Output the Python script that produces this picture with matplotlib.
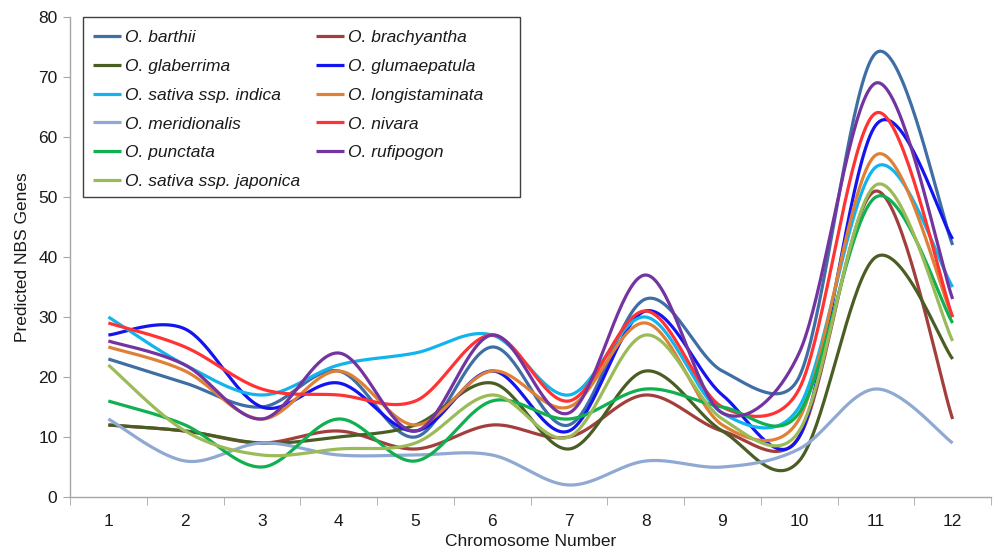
import numpy as np
import matplotlib
matplotlib.use("Agg")
import matplotlib.pyplot as plt
from matplotlib.ticker import FixedLocator, NullFormatter
from matplotlib.patches import Rectangle

plt.rcParams['font.family'] = ['Liberation Sans', 'DejaVu Sans']

chromosomes = [1, 2, 3, 4, 5, 6, 7, 8, 9, 10, 11, 12]

barthii        = [23, 19, 15, 21, 10, 25, 12, 33, 21, 20, 74, 42]
brachyantha    = [12, 11, 9, 11, 8, 12, 10, 17, 11, 10, 51, 13]
glaberrima     = [12, 11, 9, 10, 12, 19, 8, 21, 11, 6, 40, 23]
glumaepatula   = [27, 28, 15, 19, 11, 21, 11, 31, 17, 10, 62, 43]
sativa_indica  = [30, 22, 17, 22, 24, 27, 17, 30, 14, 15, 55, 35]
longistaminata = [25, 21, 13, 21, 12, 21, 15, 29, 12, 13, 57, 30]
meridionalis   = [13, 6, 9, 7, 7, 7, 2, 6, 5, 8, 18, 9]
nivara         = [29, 25, 18, 17, 16, 27, 16, 31, 15, 18, 64, 30]
punctata       = [16, 12, 5, 13, 6, 16, 13, 18, 15, 14, 50, 29]
rufipogon      = [26, 22, 13, 24, 11, 27, 14, 37, 14, 24, 69, 33]
sativa_japonica= [22, 11, 7, 8, 9, 17, 10, 27, 13, 11, 52, 26]

series = [
    ("O. barthii", barthii, "#3F6EA5"),
    ("O. brachyantha", brachyantha, "#A23F3C"),
    ("O. glaberrima", glaberrima, "#4A5E24"),
    ("O. glumaepatula", glumaepatula, "#1414F0"),
    ("O. sativa ssp. indica", sativa_indica, "#12B4EE"),
    ("O. longistaminata", longistaminata, "#DE8036"),
    ("O. meridionalis", meridionalis, "#8FA9D3"),
    ("O. nivara", nivara, "#FF3333"),
    ("O. punctata", punctata, "#10B050"),
    ("O. rufipogon", rufipogon, "#7334A0"),
    ("O. sativa ssp. japonica", sativa_japonica, "#9BBB59"),
]

W, H = 993, 550
fig = plt.figure(figsize=(W / 100, H / 100), dpi=100)
L, R, T, B = 70, 991, 17, 497
ax = fig.add_axes([L / W, 1 - B / H, (R - L) / W, (B - T) / H])
ax.set_xlim(0.5, 12.5)
ax.set_ylim(0, 80)


def excel_smooth(pts, n=40):
    N = len(pts)
    out = [pts[0]]
    for i in range(N - 1):
        p1 = pts[i]
        p2 = pts[i + 1]
        p0 = pts[i - 1] if i > 0 else p1
        p3 = pts[i + 2] if i + 2 < N else p2
        d02 = np.hypot(*(p2 - p0))
        d12 = np.hypot(*(p2 - p1))
        d13 = np.hypot(*(p3 - p1))
        f = 1 / 6 if d02 / 6 < d12 / 2 else (d12 / (2 * d02) if d02 > 0 else 0)
        g = 1 / 6 if d13 / 6 < d12 / 2 else (d12 / (2 * d13) if d13 > 0 else 0)
        c1 = p1 + f * (p2 - p0)
        c2 = p2 - g * (p3 - p1)
        t = np.linspace(0, 1, n)[1:, None]
        seg = (1 - t) ** 3 * p1 + 3 * (1 - t) ** 2 * t * c1 + 3 * (1 - t) * t ** 2 * c2 + t ** 3 * p2
        out.extend(seg)
    return np.array(out)


handles = {}
for name, vals, col in series:
    disp = ax.transData.transform(np.column_stack([chromosomes, vals]))
    curve = ax.transData.inverted().transform(excel_smooth(disp))
    ln, = ax.plot(curve[:, 0], curve[:, 1], color=col, lw=2.3, solid_capstyle='butt')
    handles[name] = ln

for s in ['top', 'right']:
    ax.spines[s].set_visible(False)
for s in ['left', 'bottom']:
    ax.spines[s].set_color('#A6A6A6')
    ax.spines[s].set_linewidth(1.0)

ax.set_yticks(np.arange(0, 81, 10))
ax.tick_params(axis='y', direction='out', length=5, color='#A6A6A6', labelsize=12.5, pad=4, labelcolor='#1a1a1a')
ax.set_xticks(chromosomes)
ax.set_xticklabels([str(c) for c in chromosomes])
ax.tick_params(axis='x', which='major', length=0, labelsize=12.5, pad=12, labelcolor='#1a1a1a')
ax.xaxis.set_minor_locator(FixedLocator(np.arange(0.5, 12.6, 1)))
ax.xaxis.set_minor_formatter(NullFormatter())
ax.tick_params(axis='x', which='minor', direction='out', length=6, color='#A6A6A6')

ax.set_xlabel("Chromosome Number", fontsize=12.5, color='#1a1a1a', labelpad=4)
ax.set_ylabel("Predicted NBS Genes", fontsize=12.5, color='#1a1a1a', labelpad=6)

# legend box
fig.add_artist(Rectangle((83 / W, 1 - 197 / H), (520 - 83) / W, (197 - 17) / H,
                         transform=fig.transFigure, facecolor='white', edgecolor='#404040',
                         lw=1.0, zorder=4))

order = ["O. barthii", "O. glaberrima", "O. sativa ssp. indica", "O. meridionalis",
         "O. punctata", "O. sativa ssp. japonica",
         "O. brachyantha", "O. glumaepatula", "O. longistaminata", "O. nivara", "O. rufipogon"]
leg = fig.legend([handles[o] for o in order], order, ncol=2, loc='upper left',
                 bbox_to_anchor=(85 / W, 1 - 22 / H), borderaxespad=0,
                 prop={'style': 'italic', 'size': 12.5}, frameon=False,
                 handlelength=1.6, handletextpad=0.25,
                 labelspacing=0.79, columnspacing=0.92, borderpad=0.45)
leg.set_zorder(5)
for t in leg.get_texts():
    t.set_color('#1a1a1a')

fig.savefig("out.png", dpi=100)
